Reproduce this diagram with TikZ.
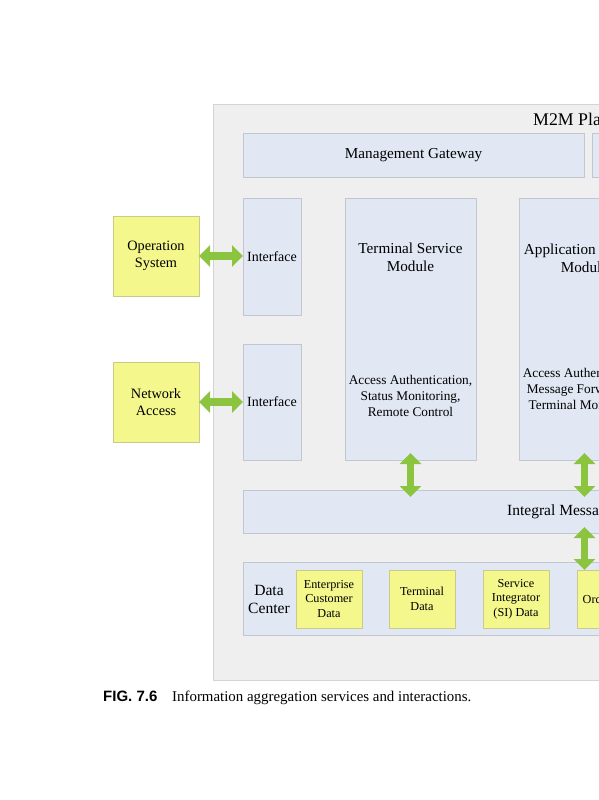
\documentclass[tikz,border=0pt]{standalone}
\usepackage{fontspec}
\setmainfont{Liberation Serif}
\newfontfamily\capfont{Liberation Sans}
\usetikzlibrary{arrows.meta}

\definecolor{platgray}{HTML}{EFEFEF}
\definecolor{platline}{HTML}{D4D4D4}
\definecolor{boxblue}{HTML}{E1E7F3}
\definecolor{blueline}{HTML}{C2C6CF}
\definecolor{noteyellow}{HTML}{F4F78C}
\definecolor{noteline}{HTML}{C9CB8C}
\definecolor{arrowgreen}{HTML}{8BC43F}

\tikzset{
  cell/.style={rectangle,anchor=north west,inner sep=0pt,outer sep=0pt,line width=0.8pt},
  platbox/.style={cell,draw=platline,fill=platgray},
  bluebox/.style={cell,draw=blueline,fill=boxblue,align=center,font=\fontsize{15.2}{18}\selectfont},
  yellowbox/.style={cell,draw=noteline,fill=noteyellow,align=center,font=\fontsize{14.3}{17}\selectfont},
  databox/.style={yellowbox,minimum width=66pt,minimum height=58pt,font=\fontsize{12.2}{14.7}\selectfont},
  boxtext/.style={align=center,inner sep=0pt,font=\fontsize{15.2}{18}\selectfont},
  tasktext/.style={align=center,inner sep=0pt,font=\fontsize{13.3}{16}\selectfont},
  fatarrow/.style={draw=arrowgreen,line width=7.5pt,
    {Triangle[width=21pt,length=11pt]}-{Triangle[width=21pt,length=11pt]}}
}

\begin{document}
\begin{tikzpicture}[x=1pt,y=-1pt]
\useasboundingbox (0,0) rectangle (599,800);
\clip (0,0) rectangle (599,800);
% platform frame
\node[platbox,minimum width=520pt,minimum height=576pt] (plat) at (213,104) {};
\node[anchor=west,inner sep=0pt,font=\fontsize{17.8}{20}\selectfont] (platname) at (533,119) {M2M Platform};
% gateways
\node[bluebox,minimum width=341pt,minimum height=44pt] (mgw) at (243,133) {Management Gateway};
\node[bluebox,minimum width=120pt,minimum height=44pt] (mgwnext) at (592,133) {};
% interfaces
\node[bluebox,minimum width=58pt,minimum height=117pt,font=\fontsize{14}{17}\selectfont] (ifos) at (243,198) {Interface};
\node[bluebox,minimum width=58pt,minimum height=116pt,font=\fontsize{14}{17}\selectfont] (ifna) at (243,344) {Interface};
% service modules
\node[bluebox,minimum width=131pt,minimum height=262pt] (tsm) at (345,198) {};
\node[bluebox,minimum width=131pt,minimum height=262pt] (asm) at (519,198) {};
\node[boxtext] (tsmtitle) at (410.5,257) {Terminal Service\\Module};
\node[tasktext] (tsmtask) at (410.5,396) {Access Authentication,\\Status Monitoring,\\Remote Control};
\node[boxtext] (asmtitle) at (584.5,258) {Application Service\\Module};
\node[tasktext] (asmtask) at (584.5,390) {Access Authentication,\\Message Forwarding,\\Terminal Monitoring};
% message bus
\node[bluebox,minimum width=420pt,minimum height=43pt] (imb) at (243,490) {};
\node[boxtext,anchor=west,font=\fontsize{15.5}{18}\selectfont] (imbname) at (507,511.5) {Integral Message Bus};
% data center
\node[bluebox,minimum width=420pt,minimum height=73pt] (dc) at (243,562) {};
\node[boxtext,font=\fontsize{15.6}{18}\selectfont] (dcname) at (269,599) {Data\\Center};
\node[databox] (ecd) at (296,570) {Enterprise\\Customer\\Data};
\node[databox] (tmd) at (389,570) {Terminal\\Data};
\node[databox] (sid) at (483,570) {Service\\Integrator\\(SI) Data};
\node[databox] (ord) at (577,570) {Order Data};
% outside systems
\node[yellowbox,minimum width=86pt,minimum height=80pt] (opsys) at (113,216) {Operation\\System};
\node[yellowbox,minimum width=86pt,minimum height=80pt] (netacc) at (113,362) {Network\\Access};
% interactions
\draw[fatarrow] (opsys.east) -- (opsys.east -| ifos.west);
\draw[fatarrow] (netacc.east) -- (netacc.east -| ifna.west);
\draw[fatarrow,shorten <=-7pt,shorten >=-7pt] (tsm.south) -- (tsm.south |- imb.north);
\draw[fatarrow,shorten <=-7pt,shorten >=-7pt] (asm.south) -- (asm.south |- imb.north);
\draw[fatarrow,shorten <=-6pt,shorten >=-8pt] (asm.south |- imb.south) -- (asm.south |- dc.north);
% caption
\node[anchor=base west,inner sep=0pt,font=\capfont\bfseries\fontsize{15}{17}\selectfont] (figno) at (103,701) {FIG. 7.6};
\node[anchor=base west,inner sep=0pt,font=\fontsize{14.9}{17}\selectfont] (figcap) at (172,701) {Information aggregation services and interactions.};
\end{tikzpicture}
\end{document}
